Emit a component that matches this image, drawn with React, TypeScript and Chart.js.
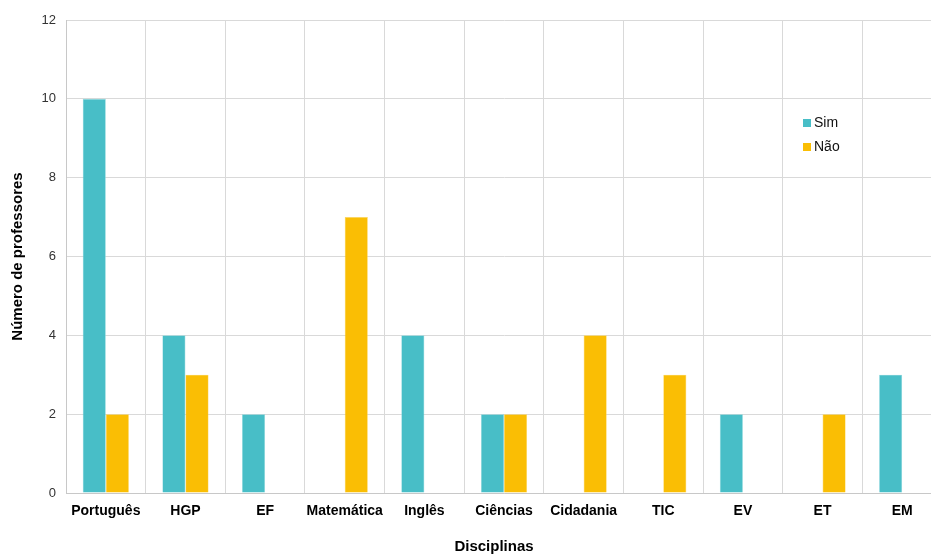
import React, { useEffect, useRef } from "react";
import { Chart, registerables } from "chart.js";

Chart.register(...registerables);

const categories = ["Português", "HGP", "EF", "Matemática", "Inglês", "Ciências", "Cidadania", "TIC", "EV", "ET", "EM"];
const simValues = [10, 4, 2, 0, 4, 2, 0, 0, 2, 0, 3];
const naoValues = [2, 3, 0, 7, 0, 2, 4, 3, 0, 2, 0];
const seriesNames = ["Sim", "Não"];
const yTicks = [0, 2, 4, 6, 8, 10, 12];

const SIM_COLOR = "#48BEC7";
const NAO_COLOR = "#FABE04";
const FONT = "'Liberation Sans', Arial, sans-serif";

const insideLegend = {
  id: "insideLegend",
  afterDraw(chart: any) {
    const { ctx, chartArea } = chart;
    const x = chartArea.left + 737;
    let y = chartArea.top + 103;
    ctx.save();
    ctx.font = "14px " + FONT;
    ctx.textBaseline = "middle";
    ctx.textAlign = "left";
    chart.data.datasets.forEach((ds: any) => {
      ctx.fillStyle = ds.backgroundColor;
      ctx.fillRect(x, y - 4, 8, 8);
      ctx.fillStyle = "#111";
      ctx.fillText(ds.label, x + 11, y);
      y += 24;
    });
    ctx.restore();
  },
};

const xTitle = {
  id: "xTitle",
  afterDraw(chart: any) {
    const { ctx, chartArea } = chart;
    ctx.save();
    ctx.font = "bold 15px " + FONT;
    ctx.textAlign = "center";
    ctx.textBaseline = "middle";
    ctx.fillStyle = "#000";
    ctx.fillText("Disciplinas", (chartArea.left + chartArea.right) / 2 - 10, chartArea.bottom + 54);
    ctx.restore();
  },
};

export default function App() {
  const ref = useRef<HTMLCanvasElement>(null);
  useEffect(() => {
    if (!ref.current) return;
    const chart = new Chart(ref.current, {
      type: "bar",
      data: {
        labels: categories,
        datasets: [
          { label: seriesNames[0], data: simValues, backgroundColor: SIM_COLOR, borderColor: "#8fd8de", borderWidth: 0.6 },
          { label: seriesNames[1], data: naoValues, backgroundColor: NAO_COLOR, borderColor: "#fcd45a", borderWidth: 0.6 },
        ],
      },
      plugins: [insideLegend, xTitle],
      options: {
        responsive: false,
        animation: false,
        layout: { padding: { top: 20, left: 0, right: 0, bottom: 0 } },
        plugins: { legend: { display: false }, tooltip: { enabled: false } },
        datasets: { bar: { barPercentage: 1, categoryPercentage: 0.58 } },
        scales: {
          x: {
            grid: { color: "#D9D9D9", drawTicks: false, offset: true },
            border: { color: "#C8C8C8" },
            ticks: {
              color: "#000",
              font: { family: FONT, size: 14, weight: "bold" },
              padding: 10,
              maxRotation: 0,
              autoSkip: false,
            },
            afterFit(scale: any) {
              scale.height = 61;
            },
          },
          y: {
            min: 0,
            max: 12,
            afterBuildTicks(scale: any) {
              scale.ticks = yTicks.map((v) => ({ value: v }));
            },
            grid: { color: "#D9D9D9", drawTicks: false },
            border: { color: "#C8C8C8" },
            ticks: {
              color: "#333",
              font: { family: FONT, size: 13 },
              padding: 10,
            },
            title: {
              display: true,
              text: "Número de professores",
              color: "#000",
              font: { family: FONT, size: 15, weight: "bold" },
              padding: { top: 9, bottom: 0 },
            },
            afterFit(scale: any) {
              scale.width = 66;
            },
          },
        },
      },
    } as any);
    return () => chart.destroy();
  }, []);
  return (
    <div style={{ position: "fixed", left: 0, top: 0, width: 931, height: 554, overflow: "hidden", background: "#fff" }}>
      <canvas ref={ref} width={942} height={554} style={{ display: "block" }} />
    </div>
  );
}
